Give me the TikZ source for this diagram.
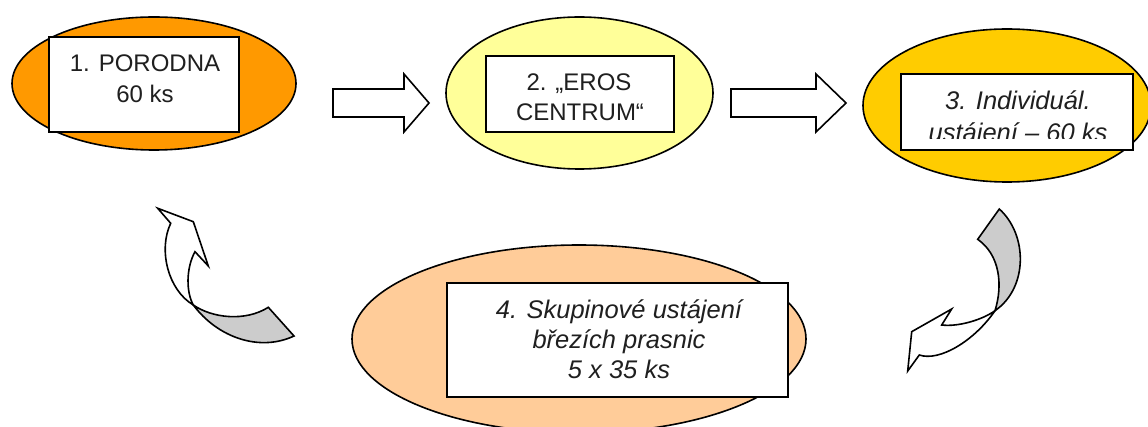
\documentclass[tikz,border=0pt]{standalone}
\usepackage{fontspec}
\setmainfont{Liberation Sans}
\usetikzlibrary{shapes.geometric}
\definecolor{cOrange}{HTML}{FF9900}
\definecolor{cLYellow}{HTML}{FFFF99}
\definecolor{cGold}{HTML}{FFCC00}
\definecolor{cPeach}{HTML}{FFCC99}
\definecolor{cGray}{HTML}{CCCCCC}
\tikzset{
  stage/.style={ellipse, draw=black, line width=1.6pt, inner sep=0pt},
  labelbox/.style={rectangle, draw=black, fill=white, line width=1.6pt, inner sep=0pt},
  txtup/.style={anchor=base, inner sep=0pt, font=\fontsize{24}{29}\selectfont, text=black!88},
  txtit/.style={anchor=base, inner sep=0pt, font=\fontsize{25.5}{30}\selectfont\itshape, text=black!88},
  blockarrow/.style={draw=black, fill=white, line width=1.6pt, line join=miter},
  curvefront/.style={draw=black, fill=white, line width=1.6pt, line join=miter},
  curveback/.style={draw=black, fill=cGray, line width=1.6pt, line join=miter}
}
\begin{document}
\begin{tikzpicture}[x=1pt,y=-1pt]
\useasboundingbox (0,0) rectangle (1148,427);
\clip (0,0) rectangle (1148,427);
% stage 1
\node[stage, fill=cOrange, minimum width=284, minimum height=133] (e1) at (154,83.5) {};
\node[labelbox, minimum width=190, minimum height=95] (r1) at (144,84.5) {};
\node[txtup] (t1a) at (145,71.7) {1. PORODNA};
\node[txtup] (t1b) at (145,102.7) {60 ks};
% stage 2
\node[stage, fill=cLYellow, minimum width=267, minimum height=152] (e2) at (579.5,93) {};
\node[labelbox, minimum width=188, minimum height=76] (r2) at (580,94) {};
\node[txtup] (t2a) at (579,91) {2. „EROS};
\node[txtup] (t2b) at (580,120.7) {CENTRUM“};
% stage 3
\node[stage, fill=cGold, minimum width=288, minimum height=153] (e3) at (1007,105.5) {};
\node[labelbox, minimum width=232, minimum height=76] (r3) at (1017,112) {};
\begin{scope}
\clip (901,74) rectangle (1133,138.5);
\node[txtit] (t3a) at (1018,110) {3. Individuál.};
\node[txtit] (t3b) at (1018,142) {ustájení – 60 ks};
\end{scope}
% stage 4
\node[stage, fill=cPeach, minimum width=454, minimum height=188] (e4) at (579,339) {};
\node[labelbox, minimum width=341, minimum height=114] (r4) at (617.5,340) {};
\node[txtit] (t4a) at (619,318.3) {4. Skupinové ustájení};
\node[txtit] (t4b) at (619,348.3) {březích prasnic};
\node[txtit] (t4c) at (619,378.3) {5 x 35 ks};
% block arrows
\draw[blockarrow] (333,89) -- (404,89) -- (404,74) -- (429,103) -- (404,132) -- (404,117) -- (333,117) -- cycle;
\draw[blockarrow] (731,89) -- (816,89) -- (816,74) -- (846,103) -- (816,132) -- (816,117) -- (731,117) -- cycle;
% right curved arrow (3 -> 4)
\coordinate (rG1) at (999.3,209);
\coordinate (rG2) at (977.7,239.3);
\coordinate (rJ) at (995,310.7);
\coordinate (rN1) at (941.7,325);
\coordinate (rN2) at (951.7,309);
\coordinate (rH1) at (911.7,331.7);
\coordinate (rT) at (907.7,371);
\coordinate (rH2) at (919.3,355);
\draw[curveback] (rG1) .. controls (1028,235) and (1028,288) .. (rJ)
  .. controls (1003,285) and (1000,255) .. (rG2) -- cycle;
\draw[curvefront] (rJ) .. controls (982,320) and (958,327) .. (rN1) -- (rN2) -- (rH1) -- (rT) -- (rH2)
  .. controls (940,362) and (975,340) .. (rJ) -- cycle;
% left curved arrow (4 -> 1)
\coordinate (lT) at (157.7,208.3);
\coordinate (lA) at (193.3,221.7);
\coordinate (lB) at (208.3,266);
\coordinate (lC) at (195,251.7);
\coordinate (lD) at (170.7,223.3);
\coordinate (lJ) at (193.3,305);
\coordinate (lE1) at (268.3,307.3);
\coordinate (lE2) at (294,336);
\draw[curveback] (lJ) .. controls (212,318) and (245,322) .. (lE1) -- (lE2)
  .. controls (260,352) and (218,338) .. (lJ) -- cycle;
\draw[curvefront] (lT) -- (lA) -- (lB) -- (lC) .. controls (186,268) and (186,292) .. (lJ)
  .. controls (168,290) and (158,250) .. (lD) -- cycle;
\end{tikzpicture}
\end{document}
